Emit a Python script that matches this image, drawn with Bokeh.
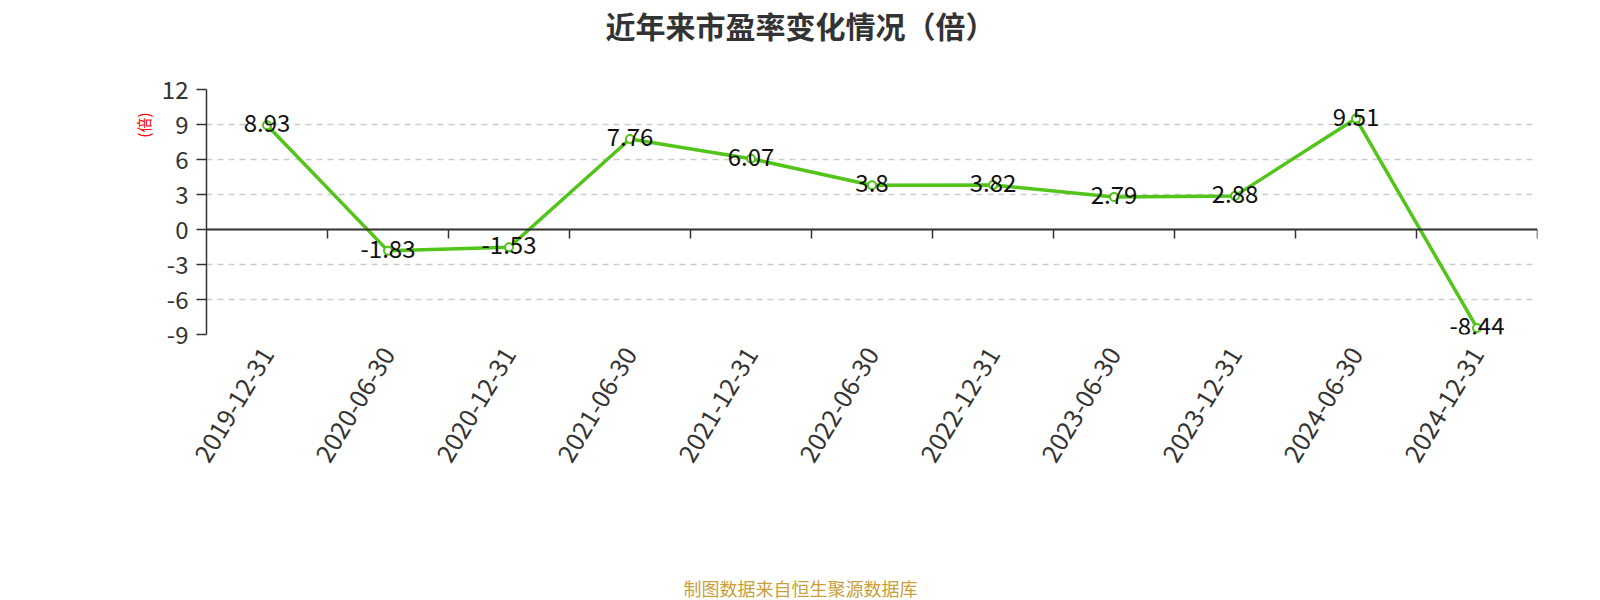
import math
from bokeh.plotting import figure
from bokeh.models import ColumnDataSource, Range1d, Span, Title, FixedTicker
from bokeh.transform import dodge
from bokeh.core.properties import value
from bokeh.embed import file_html
from bokeh.resources import INLINE

dates = ["2019-12-31", "2020-06-30", "2020-12-31", "2021-06-30", "2021-12-31",
         "2022-06-30", "2022-12-31", "2023-06-30", "2023-12-31", "2024-06-30", "2024-12-31"]
pe = [8.93, -1.83, -1.53, 7.76, 6.07, 3.8, 3.82, 2.79, 2.88, 9.51, -8.44]
pe_labels = ["8.93", "-1.83", "-1.53", "7.76", "6.07", "3.8", "3.82", "2.79", "2.88", "9.51", "-8.44"]
y_ticks = [-9, -6, -3, 0, 3, 6, 9, 12]

title_text = "近年来市盈率变化情况（倍）"
unit_text = "(倍)"
footer_text = "制图数据来自恒生聚源数据库"

FONT = "Noto Sans CJK SC"

src = ColumnDataSource(dict(x=dates, y=pe, lab=pe_labels, t0=[0] * len(dates), t1=[-0.78] * len(dates)))

p = figure(width=1584, height=600, x_range=dates, y_range=Range1d(-9, 12),
           output_backend="svg", toolbar_location=None, title=None,
           min_border_left=206, min_border_right=47, min_border_top=0, min_border_bottom=0)
p.outline_line_color = None
p.background_fill_color = "white"
p.border_fill_color = "white"

# grid
p.xgrid.grid_line_color = None
p.ygrid.grid_line_color = "#cccccc"
p.ygrid.grid_line_dash = "6 5"
p.ygrid.grid_line_width = 1.5
p.yaxis.ticker = FixedTicker(ticks=y_ticks)
p.yaxis.major_label_overrides = {t: str(t) for t in y_ticks}

# y axis
p.yaxis.axis_line_color = "#333333"
p.yaxis.axis_line_width = 1.5
p.yaxis.major_tick_line_color = "#333333"
p.yaxis.major_tick_line_width = 1.5
p.yaxis.major_tick_out = 10
p.yaxis.major_tick_in = 0
p.yaxis.minor_tick_line_color = None
p.yaxis.major_label_text_font = FONT
p.yaxis.major_label_text_font_size = "24px"
p.yaxis.major_label_text_color = "#333333"
p.yaxis.major_label_standoff = 8

# x axis (labels only, at bottom)
p.xaxis.axis_line_color = None
p.xaxis.major_tick_line_color = None
p.xaxis.minor_tick_line_color = None
p.xaxis.major_tick_out = 0
p.xaxis.major_tick_in = 0
p.xaxis.major_label_orientation = 1.03
p.xaxis.major_label_text_font = FONT
p.xaxis.major_label_text_font_size = "25px"
p.xaxis.major_label_text_color = "#333333"
p.xaxis.major_label_standoff = 15

# zero line with category-boundary ticks
p.add_layout(Span(location=0, dimension="width", line_color="#333333", line_width=2))
p.segment(x0=dodge("x", 0.5, range=p.x_range), x1=dodge("x", 0.5, range=p.x_range),
          y0="t0", y1="t1", source=src, line_color="#333333", line_width=1.5)

# series
p.line("x", "y", source=src, line_color="#52c41a", line_width=3.5)
p.scatter("x", "y", source=src, size=8, fill_color="white", line_color="#52c41a", line_width=2)
p.text("x", "y", text="lab", source=src, text_align="center", text_baseline="middle",
       y_offset=-2, text_font=value(FONT), text_font_size="24px", text_color="#111111")

# top: spacer next to frame, then the title
p.add_layout(Title(text=" ", text_font=FONT, text_font_size="10px", standoff=26), "above")
p.add_layout(Title(text=title_text, align="left", offset=399, text_font=FONT, text_font_size="30px",
                   text_font_style="bold", text_color="#333333", standoff=0), "above")
# left: unit label
p.add_layout(Title(text=unit_text, align="right", offset=23, text_font=FONT, text_font_size="15px",
                   text_font_style="normal", text_color="#ff0000", standoff=10), "left")
# bottom: spacer then footer
p.add_layout(Title(text=" ", text_font=FONT, text_font_size="10px", standoff=83), "below")
p.add_layout(Title(text=footer_text, align="left", offset=477, text_font=FONT, text_font_size="18px",
                   text_font_style="normal", text_color="#c9a03a", standoff=0), "below")

open("out.html", "w").write(file_html(p, INLINE))
